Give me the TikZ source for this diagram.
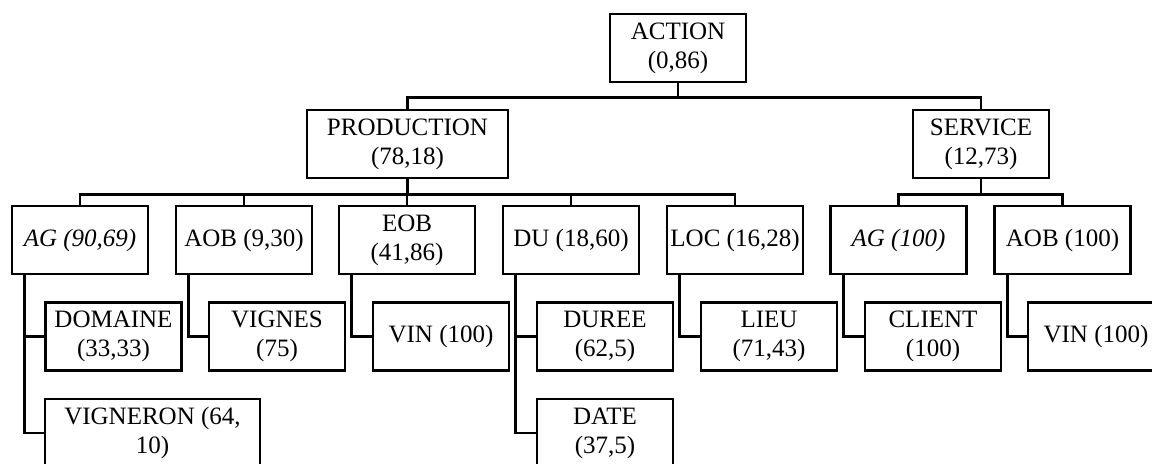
\documentclass[tikz,border=0pt]{standalone}
\usepackage{fontspec}
\setmainfont{Liberation Serif}

\begin{document}
\begin{tikzpicture}[x=0.5pt, y=-0.5pt,
    box/.style={draw, line width=1.3pt, fill=white, minimum width=68pt, minimum height=34pt,
        inner sep=1pt, align=center, font=\fontsize{12.5}{14.5}\selectfont},
    link/.style={line width=1.3pt}]
    \useasboundingbox (0,0) rectangle (1152,463);

    % Draw nodes
    \node[box] (action) at (678,48) {ACTION\\(0,86)};
    \node[box, minimum width=100.5pt] (production) at (407.5,144) {PRODUCTION\\(78,18)};
    \node[box] (service) at (981,144) {SERVICE\\(12,73)};

    \node[box] (ag) at (80,240) {\itshape AG (90,69)};
    \node[box] (aob) at (244,240) {AOB (9,30)};
    \node[box] (eob) at (407,240) {EOB\\(41,86)};
    \node[box] (du) at (571,240) {DU (18,60)};
    \node[box] (loc) at (735,240) {LOC (16,28)};
    \node[box] (agservice) at (898.5,240) {\itshape AG (100)};
    \node[box] (aobservice) at (1062.5,240) {AOB (100)};

    \node[box] (domaine) at (113.5,336.5) {DOMAINE\\(33,33)};
    \node[box] (vignes) at (277,336.5) {VIGNES\\(75)};
    \node[box] (vin) at (441,336.5) {VIN (100)};
    \node[box] (duree) at (605,336.5) {DUREE\\(62,5)};
    \node[box] (lieu) at (769,336.5) {LIEU\\(71,43)};
    \node[box] (client) at (933,336.5) {CLIENT\\(100)};
    \node[box] (vinservice) at (1096,336.5) {VIN (100)};

    \node[box, minimum width=107.5pt] (vigneron) at (152.5,433) {VIGNERON (64,\\10)};
    \node[box] (date) at (605,433) {DATE\\(37,5)};

    % Draw connections
    \draw[link] (action.south) -- ++(0,14) -| (production.north);
    \draw[link] (action.south) -- ++(0,14) -| (service.north);

    \draw[link] (production.south) -- ++(0,15) -| (ag.north);
    \draw[link] (production.south) -- ++(0,15) -| (aob.north);
    \draw[link] (production.south) -- ++(0,15) -| (eob.north);
    \draw[link] (production.south) -- ++(0,15) -| (du.north);
    \draw[link] (production.south) -- ++(0,15) -| (loc.north);
    \draw[link] (service.south) -- ++(0,15) -| (agservice.north);
    \draw[link] (service.south) -- ++(0,15) -| (aobservice.north);

    \draw[link] ([xshift=7pt]ag.south west) |- (domaine.west);
    \draw[link] ([xshift=7pt]ag.south west) |- (vigneron.west);
    \draw[link] ([xshift=7pt]aob.south west) |- (vignes.west);
    \draw[link] ([xshift=7pt]eob.south west) |- (vin.west);
    \draw[link] ([xshift=7pt]du.south west) |- (duree.west);
    \draw[link] ([xshift=7pt]du.south west) |- (date.west);
    \draw[link] ([xshift=7pt]loc.south west) |- (lieu.west);
    \draw[link] ([xshift=7pt]agservice.south west) |- (client.west);
    \draw[link] ([xshift=7pt]aobservice.south west) |- (vinservice.west);
\end{tikzpicture}
\end{document}
